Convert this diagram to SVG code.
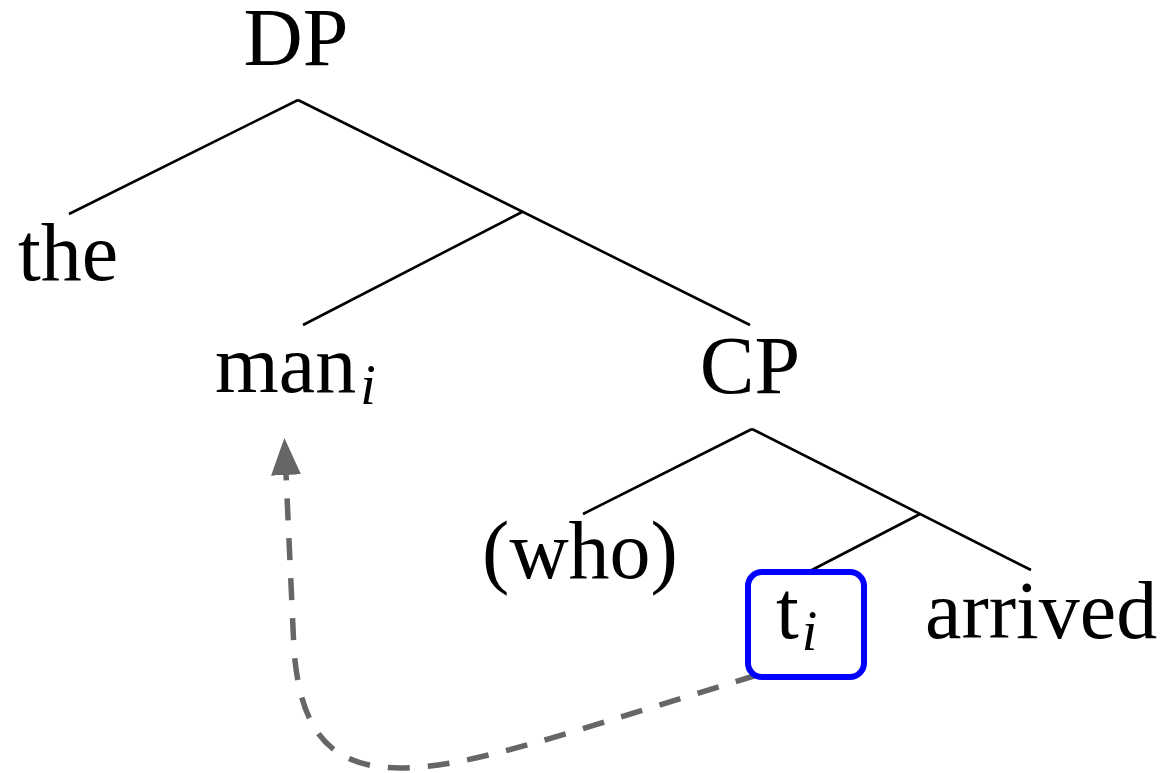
<svg xmlns="http://www.w3.org/2000/svg" width="1166" height="773" viewBox="0 0 1166 773">
<style>
.lbl{font-family:"Liberation Serif","DejaVu Serif",serif;font-size:82px;fill:#000}
.sub{font-style:italic;font-size:56px}
.edge{stroke:#000;stroke-width:2.6;fill:none;stroke-linecap:butt}
.move{stroke:#666;stroke-width:5.5;fill:none;stroke-dasharray:22 18}
</style>
<defs>
<marker id="ah" markerUnits="userSpaceOnUse" markerWidth="38" markerHeight="30" viewBox="0 0 38 30" refX="1" refY="15" orient="auto">
<path d="M0,0 L37,15 L0,30 z" fill="#666"/>
</marker>
</defs>
<rect width="1166" height="773" fill="#fff"/>
<g id="connectors">
<line class="edge" x1="298" y1="100" x2="69" y2="214"/>
<line class="edge" x1="298" y1="100" x2="750" y2="325"/>
<line class="edge" x1="522" y1="212" x2="303" y2="325"/>
<line class="edge" x1="752" y1="429" x2="583" y2="514"/>
<line class="edge" x1="752" y1="429" x2="1031" y2="570"/>
<line class="edge" x1="920" y1="514" x2="808" y2="572"/>
<path class="move" d="M757,675 C570,732 470,768 400,768 C325,768 300,725 294,650 L286,474" marker-end="url(#ah)"/>
</g>
<g id="DP"><text class="lbl" x="296" y="65" text-anchor="middle">DP</text></g>
<g id="the"><text class="lbl" x="68" y="280" text-anchor="middle">the</text></g>
<g id="man"><text class="lbl" x="215" y="392">man<tspan class="sub" dx="4" dy="12">i</tspan></text></g>
<g id="CP"><text class="lbl" x="750" y="393" text-anchor="middle">CP</text></g>
<g id="who"><text class="lbl" x="580" y="578" text-anchor="middle">(who)</text></g>
<g id="trace">
<rect x="748" y="572" width="116" height="105" rx="14" fill="#fff" stroke="#0000ff" stroke-width="6"/>
<text class="lbl" x="776" y="638">t<tspan class="sub" dx="3" dy="12">i</tspan></text>
</g>
<g id="arrived"><text class="lbl" x="925" y="638">arrived</text></g>
</svg>
